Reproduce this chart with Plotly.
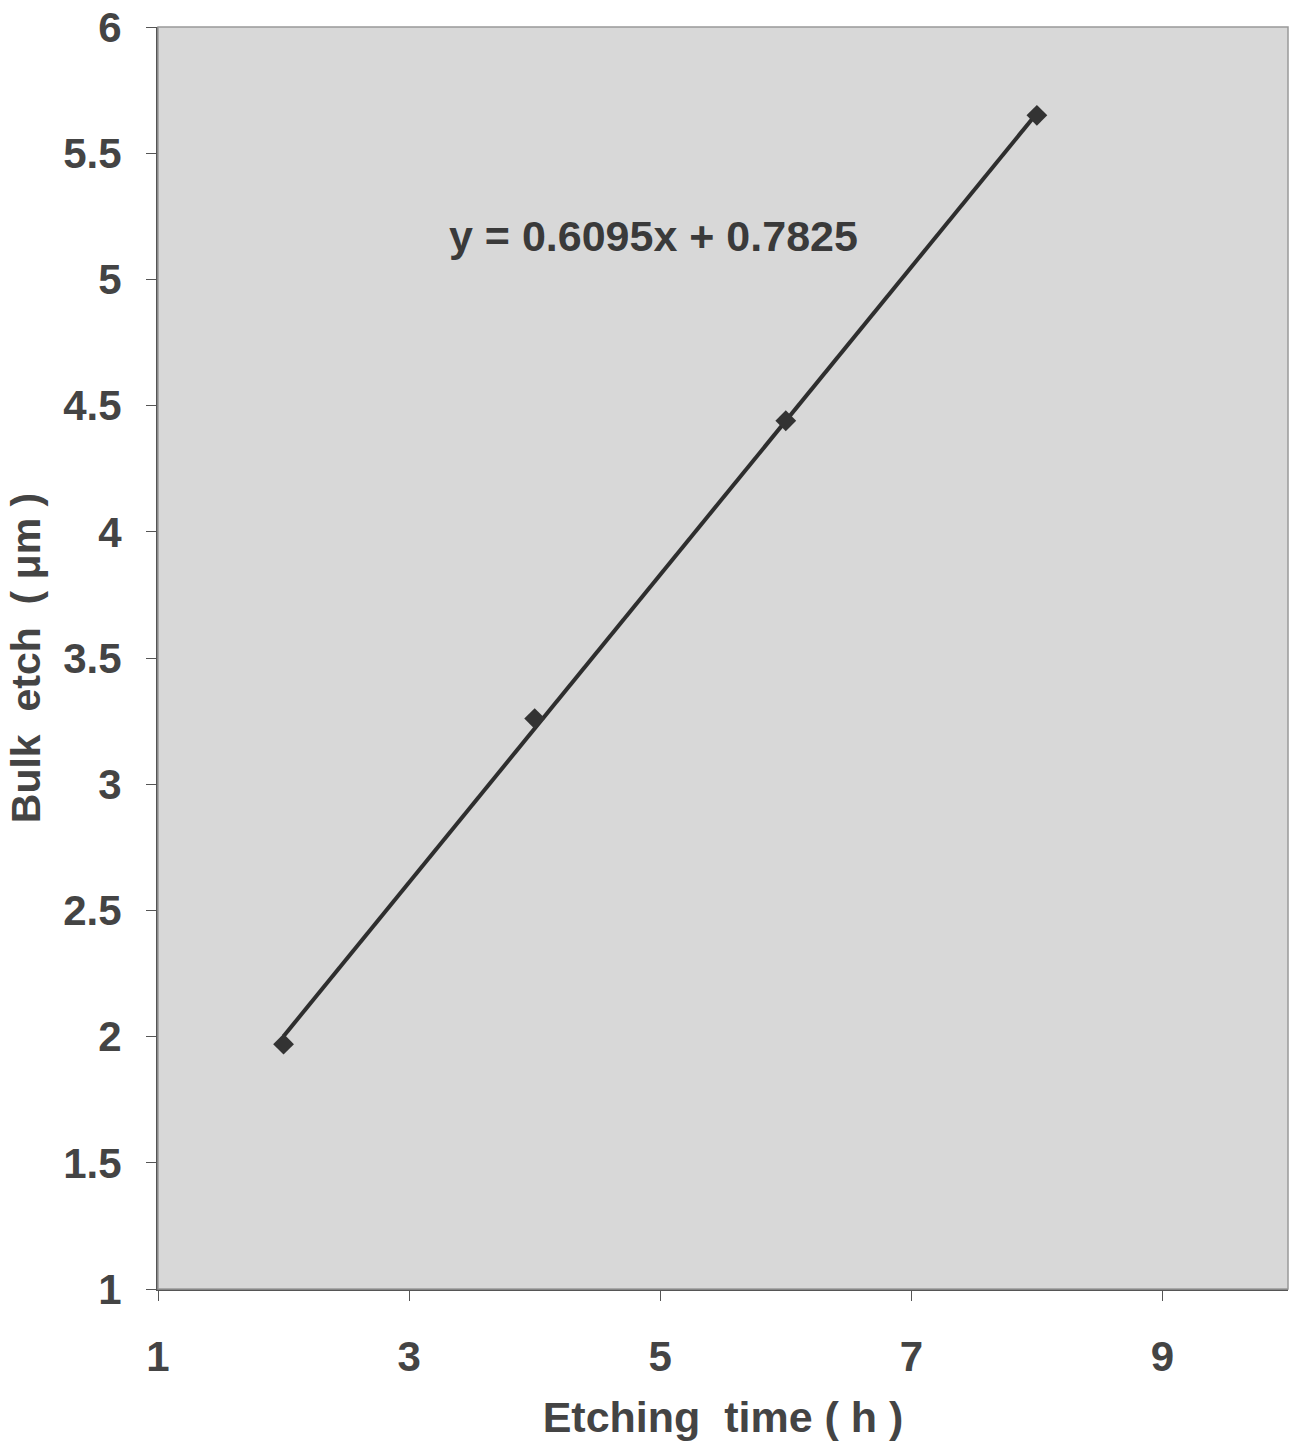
import plotly.graph_objects as go

etch_time = [2, 4, 6, 8]
bulk_etch = [1.97, 3.26, 4.44, 5.65]
slope = 0.6095
intercept = 0.7825
trend_x = [2, 8]
x_ticks = [1, 3, 5, 7, 9]
y_ticks = [1, 1.5, 2, 2.5, 3, 3.5, 4, 4.5, 5, 5.5, 6]
eq_label = "y = 0.6095x + 0.7825"

trend_y = [slope * x + intercept for x in trend_x]

fig = go.Figure()
fig.add_trace(go.Scatter(x=trend_x, y=trend_y, mode="lines",
                         line=dict(color="#2e2e2e", width=4), showlegend=False))
fig.add_trace(go.Scatter(x=etch_time, y=bulk_etch, mode="markers",
                         marker=dict(symbol="diamond", size=16, color="#333333"),
                         showlegend=False))

fig.add_annotation(x=4.95, y=5.17, text="<b>" + eq_label + "</b>", showarrow=False,
                   font=dict(size=43, color="#3a3a3a", family="Liberation Sans, Arial"))

font = dict(family="Liberation Sans, Arial", size=42, color="#444444")
fig.update_layout(
    width=1295, height=1454,
    margin=dict(l=158, r=7, t=27, b=165),
    paper_bgcolor="white",
    plot_bgcolor="#d8d8d8",
    font=font,
    xaxis=dict(range=[1, 10], tickvals=x_ticks, ticktext=["<b>%d</b>" % v for v in x_ticks],
               showgrid=False, zeroline=False, showline=True, linecolor="#555555", linewidth=2,
               ticks="outside", ticklen=10, tickcolor="#555555", ticklabelstandoff=20,
               mirror=False, automargin=False,
               title=dict(text="<b>Etching  time ( h )</b>", font=dict(size=43, color="#444444"), standoff=22)),
    yaxis=dict(range=[1, 6], tickvals=y_ticks,
               ticktext=["<b>%g</b>" % v for v in y_ticks],
               showgrid=False, zeroline=False, showline=True, linecolor="#555555", linewidth=2,
               ticks="outside", ticklen=10, tickcolor="#555555", ticklabelstandoff=16,
               automargin=False,
               title=dict(text="<b>Bulk  etch  ( μm )</b>", font=dict(size=41, color="#444444"), standoff=10)),
)
fig.add_shape(type="rect", xref="paper", yref="paper", x0=0, y0=0, x1=1, y1=1,
              line=dict(color="#999999", width=1.5), layer="above")

fig.write_html("out.html")
